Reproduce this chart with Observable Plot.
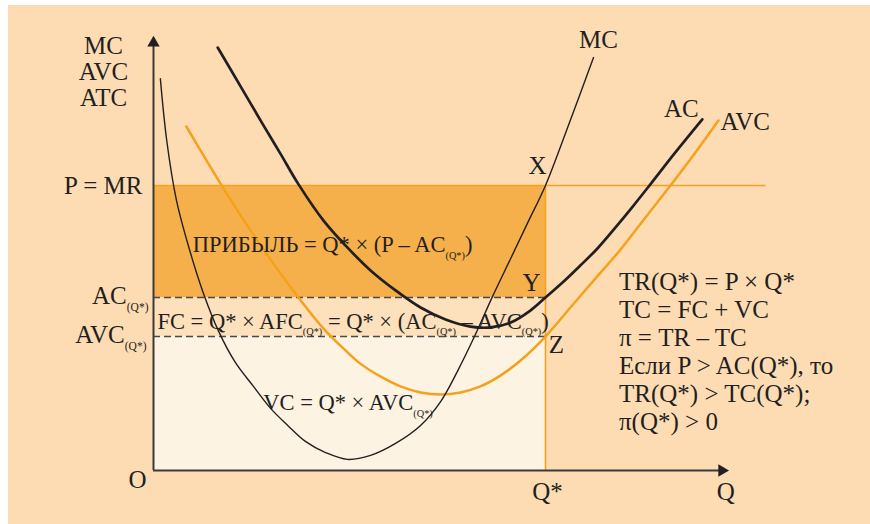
<!DOCTYPE html>
<html>
<head>
<meta charset="utf-8">
<script src="https://cdn.jsdelivr.net/npm/d3@7"></script>
<script src="https://cdn.jsdelivr.net/npm/@observablehq/plot@0.6"></script>
<style>
  html, body { margin: 0; padding: 0; background: #ffffff; }
  #chart { position: absolute; left: 8px; top: 5px; width: 862px; height: 519px; background: #fddcb4; }
  #chart svg { display: block; }
</style>
</head>
<body>
<div id="chart"></div>
<script>
// Short-run costs of a competitive firm earning economic profit.
// Quantity on x, price / cost on y (arbitrary units: P = 100, Q* = 80).

const price = 100;      // P = MR
const qStar = 80;       // profit-maximising output Q*
const acAtQ = 60.7;     // AC(Q*)
const avcAtQ = 47;      // AVC(Q*)
const priceLineEnd = 125;

// Marginal cost
const mcQ    = [1.4, 2.7, 4.7, 7.4, 10.2, 13.3, 16.7, 20.4, 23.9, 27.4, 31.0, 35.1, 39.6, 44.3, 49.4, 54.5, 58.6, 62.0, 65.5, 69.2, 72.9, 76.5, 80, 84.9, 89.8];
const mcCost = [137.5, 115.8, 94.7, 77.2, 62.1, 48.8, 37.9, 29.5, 21.8, 15.8, 10.2, 6.3, 3.9, 5.3, 9.5, 15.8, 24.2, 34.7, 47.0, 61.1, 74.4, 87.4, 100, 122.1, 144.9];

// Average (total) cost
const acQ    = [13.1, 17.8, 22.2, 25.9, 29.6, 34.7, 39.6, 44.3, 49.4, 54.5, 59.6, 64.7, 68.8, 72.9, 76.9, 80, 83.7, 87.1, 90.6, 94.3, 97.8, 101.4, 106.5, 112.0];
const acCost = [148.4, 134.7, 121.8, 111.2, 100.4, 87.7, 78.2, 70.2, 63.2, 57.2, 53.0, 50.5, 50.2, 51.9, 56.1, 60.7, 66.3, 71.9, 77.9, 85.3, 92.6, 100.4, 111.6, 123.2];

// Average variable cost
const avcQ    = [6.7, 11.2, 15.7, 20.2, 24.9, 29.4, 34.7, 39.2, 42.2, 46.3, 50.4, 54.5, 58.6, 62.7, 66.7, 70.8, 74.9, 80, 85.1, 90.2, 95.3, 100.4, 105.5, 110.6, 115.3];
const avcCost = [120.7, 107.7, 95.1, 83.2, 71.6, 61.1, 49.8, 42.1, 37.5, 33.0, 29.5, 27.4, 26.7, 27.4, 29.5, 33.3, 38.6, 47.0, 57.2, 67.4, 77.5, 88.8, 100, 111.6, 122.8];

// Formulas written beside the graph
const infoLines = [
  "TR(Q*) = P × Q*",
  "TC = FC + VC",
  "π = TR – TC",
  "Если P > AC(Q*), то",
  "TR(Q*) > TC(Q*);",
  "π(Q*) > 0"
];
const profitLabel = "ПРИБЫЛЬ = Q* × (P – AC_{(Q*)})";
const fcLabel = "FC = Q* × AFC_{(Q*)} = Q* × (AC_{(Q*)} – AVC_{(Q*)})";
const vcLabel = "VC = Q* × AVC_{(Q*)}";

// Axis extents (where the arrowheads sit)
const yAxisTop = 150;
const xAxisEnd = 116;

// Plot area: 862 x 519 px, origin 145 px from the left and 465 px from the top
const PX_Q = 4.9, PX_P = 2.85;
const W = 862, H = 519, OX = 145, OY = 465;

const pts = (qs, cs) => qs.map((q, i) => ({q, c: cs[i]}));
const ink = "#231f20";
const orange = "#f5a11c";
const serif = "'Liberation Serif', 'Times New Roman', serif";

const bands = [
  {y1: 0, y2: avcAtQ, fill: "#fdf3e3"},
  {y1: avcAtQ, y2: acAtQ, fill: "#fde0bc"},
  {y1: acAtQ, y2: price, fill: "#f6b04b"}
];

const label = (text, x, y, opts) =>
  Plot.text([text], {x: () => x, y: () => y, lineAnchor: "bottom", textAnchor: "middle", fontSize: 25, fill: ink, ...opts});

const chart = Plot.plot({
  width: W, height: H, margin: 0,
  x: {domain: [-OX / PX_Q, (W - OX) / PX_Q], axis: null},
  y: {domain: [(OY - H) / PX_P, OY / PX_P], axis: null},
  style: {background: "transparent", fontFamily: serif, color: ink, overflow: "visible"},
  marks: [
    Plot.rect(bands, {x1: () => 0, x2: () => qStar, y1: "y1", y2: "y2", fill: d => d.fill}),
    // price line and Q* vertical
    Plot.ruleY([price], {x1: 0, x2: priceLineEnd, stroke: orange, strokeWidth: 1.4}),
    Plot.ruleX([qStar], {y1: 0, y2: price, stroke: orange, strokeWidth: 1.6}),
    // AC(Q*) and AVC(Q*) levels
    Plot.ruleY([acAtQ, avcAtQ], {x1: 0, x2: qStar, stroke: "#4a4a4a", strokeWidth: 1.5, strokeDasharray: "7,4"}),
    // cost curves
    Plot.line(pts(avcQ, avcCost), {x: "q", y: "c", stroke: orange, strokeWidth: 2.5, curve: "catmull-rom"}),
    Plot.line(pts(mcQ, mcCost), {x: "q", y: "c", stroke: ink, strokeWidth: 1.4, curve: "catmull-rom"}),
    Plot.line(pts(acQ, acCost), {x: "q", y: "c", stroke: ink, strokeWidth: 2.7, curve: "catmull-rom"}),
    // axes with arrowheads
    Plot.ruleX([0], {y1: 0, y2: yAxisTop, stroke: "#3a3a3a", strokeWidth: 2}),
    Plot.ruleY([0], {x1: 0, x2: xAxisEnd, stroke: "#3a3a3a", strokeWidth: 2}),
    Plot.dot([{q: 0, c: yAxisTop}], {x: "q", y: "c", symbol: "triangle", r: 4.6, fill: ink, stroke: null}),
    Plot.dot([{q: xAxisEnd, c: 0}], {x: "q", y: "c", symbol: "triangle", r: 4.6, fill: ink, stroke: null, rotate: 90}),
    // axis titles and level labels
    label("MC\nAVC\nATC", 0, yAxisTop, {dx: -50, dy: 63, lineHeight: 1.04}),
    label("P = MR", 0, price, {dx: -11, dy: 8, textAnchor: "end"}),
    label("AC_{(Q*)}", 0, acAtQ, {dx: -5, dy: 6, textAnchor: "end"}),
    label("AVC_{(Q*)}", 0, avcAtQ, {dx: -7, dy: 6, textAnchor: "end"}),
    label("O", 0, 0, {dx: -16, dy: 17}),
    label("Q*", qStar, 0, {dx: 2, dy: 29}),
    label("Q", xAxisEnd, 0, {dx: 4, dy: 29}),
    // points on the Q* line
    label("X", qStar, price, {dx: -8, dy: -12}),
    label("Y", qStar, acAtQ, {dx: -14, dy: -7}),
    label("Z", qStar, avcAtQ, {dx: 11, dy: 16}),
    // curve names
    label("MC", mcQ[mcQ.length - 1], mcCost[mcCost.length - 1], {dx: 5, dy: -10}),
    label("AC", acQ[acQ.length - 1], acCost[acCost.length - 1], {dx: -21, dy: -2}),
    label("AVC", avcQ[avcQ.length - 1], avcCost[avcCost.length - 1], {dx: 2, dy: 9, textAnchor: "start"}),
    // area formulas
    label(profitLabel, 8, 76.5, {textAnchor: "start", fontSize: 22.5}),
    label(fcLabel, 0.8, 49.8, {textAnchor: "start", fontSize: 22.5}),
    label(vcLabel, 22.4, 21.1, {textAnchor: "start", fontSize: 22.5}),
    // right-hand notes
    ...infoLines.map((s, i) => label(s, 95, 63.2, {dy: i * 28, textAnchor: "start"}))
  ]
});

document.getElementById("chart").appendChild(chart);

// Turn "_{...}" fragments into lowered, smaller tspans
(function setSubscripts(svg) {
  const NS = "http://www.w3.org/2000/svg";
  for (const t of svg.querySelectorAll("text")) {
    const s = t.textContent;
    if (!s.includes("_{")) continue;
    const size = parseFloat(getComputedStyle(t).fontSize) || 24;
    const shift = size * 0.3;
    t.textContent = "";
    let lowered = false;
    for (const part of s.split(/(_\{[^}]*\})/)) {
      if (!part) continue;
      const span = document.createElementNS(NS, "tspan");
      if (part.startsWith("_{")) {
        span.textContent = part.slice(2, -1);
        span.setAttribute("font-size", (size * 0.46).toFixed(1));
        if (!lowered) span.setAttribute("dy", shift.toFixed(1));
        lowered = true;
      } else {
        span.textContent = part;
        if (lowered) span.setAttribute("dy", (-shift).toFixed(1));
        lowered = false;
      }
      t.appendChild(span);
    }
  }
})(chart);
</script>
</body>
</html>
